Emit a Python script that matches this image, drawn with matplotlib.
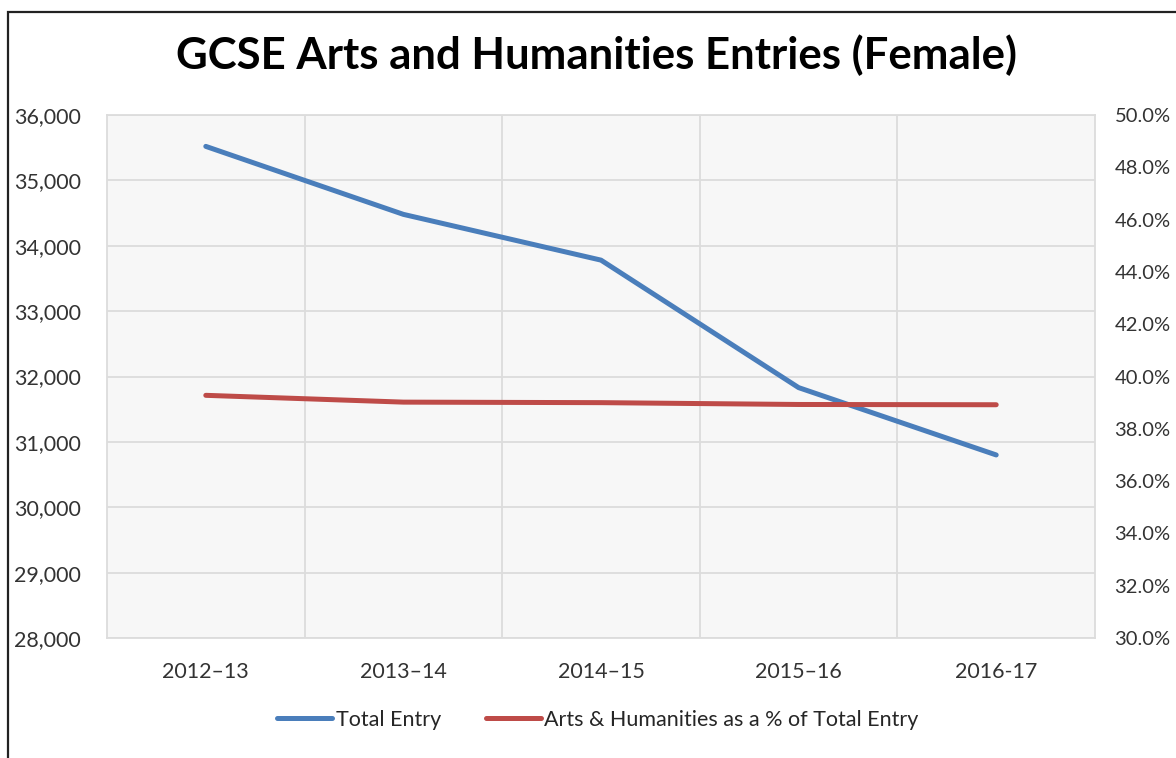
import matplotlib
matplotlib.use("Agg")
import matplotlib.pyplot as plt
from matplotlib.patches import Rectangle
from matplotlib.ticker import FuncFormatter, MultipleLocator, FixedLocator

categories = ["2012\u201313", "2013\u201314", "2014\u201315", "2015\u201316", "2016-17"]
total_entry = [35520, 34480, 33780, 31830, 30800]
arts_pct = [39.28, 39.02, 39.00, 38.93, 38.92]
series_names = ["Total Entry", "Arts & Humanities as a % of Total Entry"]
title = "GCSE Arts and Humanities Entries (Female)"

plt.rcParams['font.family'] = ['Lato', 'DejaVu Sans']

W, H = 1176, 758
fig = plt.figure(figsize=(W / 100, H / 100), dpi=100)
fig.patch.set_facecolor("white")

# outer border (cropped frame)
fig.add_artist(Rectangle((8 / W, -0.1), 1.2, 1 - 12 / H + 0.1, transform=fig.transFigure,
                         fill=False, edgecolor="#222222", linewidth=1.6, clip_on=False))

ax = fig.add_axes([107 / W, 1 - 638 / H, (1095 - 107) / W, (638 - 115) / H])
ax.set_facecolor("#f7f7f7")
x = list(range(len(categories)))

blue = "#4a7ebb"
red = "#be4b48"
grid_c = "#dcdcdc"
lab_c = "#333333"
fs = 15.5

l1, = ax.plot(x, total_entry, color=blue, linewidth=3.6, solid_capstyle="round",
              solid_joinstyle="round", label=series_names[0], zorder=3)
ax.set_xlim(-0.5, len(categories) - 0.5)
ax.set_ylim(28000, 36000)
ax.yaxis.set_major_locator(MultipleLocator(1000))
ax.yaxis.set_major_formatter(FuncFormatter(lambda v, p: f"{int(v):,}"))
ax.set_xticks(x)
ax.set_xticklabels(categories)
ax.xaxis.set_minor_locator(FixedLocator([i + 0.5 for i in range(len(categories) - 1)]))
ax.grid(True, axis="y", which="major", color=grid_c, linewidth=1.3, zorder=0)
ax.grid(True, axis="x", which="minor", color=grid_c, linewidth=1.3, zorder=0)
ax.grid(False, axis="x", which="major")
ax.tick_params(axis="both", which="both", length=0, labelsize=fs, labelcolor=lab_c)
ax.tick_params(axis="y", pad=19)
ax.tick_params(axis="x", pad=17)
for s in ax.spines.values():
    s.set_color(grid_c)
    s.set_linewidth(1.3)
ax.set_axisbelow(True)

ax2 = ax.twinx()
l2, = ax2.plot(x, arts_pct, color=red, linewidth=3.6, solid_capstyle="round",
               solid_joinstyle="round", label=series_names[1], zorder=3)
ax2.set_ylim(30, 50)
ax2.yaxis.set_major_locator(MultipleLocator(2))
ax2.yaxis.set_major_formatter(FuncFormatter(lambda v, p: f"{v:.1f}%"))
ax2.tick_params(axis="y", length=0, labelsize=14.5, labelcolor=lab_c, pad=14)
for s in ax2.spines.values():
    s.set_visible(False)

fig.text(597 / W, 1 - 55 / H, title, ha="center", va="center", fontsize=31.5,
         fontweight="bold", color="black")

fig.legend(handles=[l1, l2], labels=series_names, loc="center",
           bbox_to_anchor=(598 / W, 1 - 720 / H), ncol=2, frameon=False,
           fontsize=fs, handlelength=2.55, handletextpad=0.15, columnspacing=2.1,
           labelcolor="#262626")

fig.savefig("out.png", dpi=100, facecolor="white")
